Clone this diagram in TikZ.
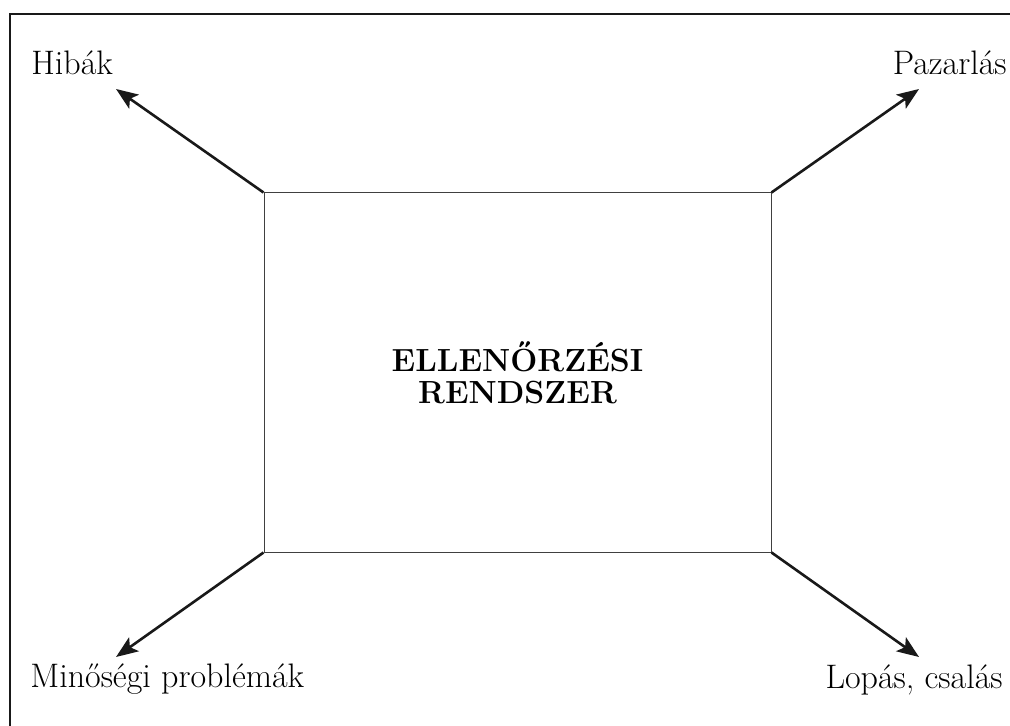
\documentclass[tikz,border=0pt]{standalone}
\usepackage{tikz}
\usetikzlibrary{arrows.meta, positioning}

\begin{document}
\begin{tikzpicture}[
  x=0.5pt, y=-0.5pt,
  font=\fontsize{17}{20}\selectfont,
  every node/.style={align=center, inner sep=0pt},
  frame/.style={draw=black!90, line width=1pt},
  sysbox/.style={rectangle, draw=black!75, line width=0.5pt,
    minimum width=253.5pt, minimum height=179.5pt},
  label/.style={text=black},
  arrow/.style={-{Stealth[length=11pt, width=8.5pt, inset=2.5pt]}, line width=1.3pt, color=black!90},
]
  \useasboundingbox (0,0) rectangle (1010,726);
  \clip (0,0) rectangle (1010,726);
  \draw[frame] (10,14) rectangle (1040,760);

  \node[sysbox, font=\fontsize{16}{16}\selectfont\bfseries] (sys) at (517.5,372.5)
    {ELLENŐRZÉSI\\RENDSZER};

  \node[label, anchor=base west] (hibak) at (31,75) {Hibák};
  \node[label, anchor=base east] (pazar) at (1007,75) {Pazarlás};
  \node[label, anchor=base west] (minos) at (30,687) {Minőségi problémák};
  \node[label, anchor=base east] (lopas) at (1003,688) {Lopás, csalás};

  \coordinate (tipHibak) at (116,89);
  \coordinate (tipPazar) at (919,89);
  \coordinate (tipMinos) at (116,657);
  \coordinate (tipLopas) at (919,657);

  \draw[arrow] (sys.north west) -- (tipHibak);
  \draw[arrow] (sys.north east) -- (tipPazar);
  \draw[arrow] (sys.south west) -- (tipMinos);
  \draw[arrow] (sys.south east) -- (tipLopas);
\end{tikzpicture}
\end{document}
